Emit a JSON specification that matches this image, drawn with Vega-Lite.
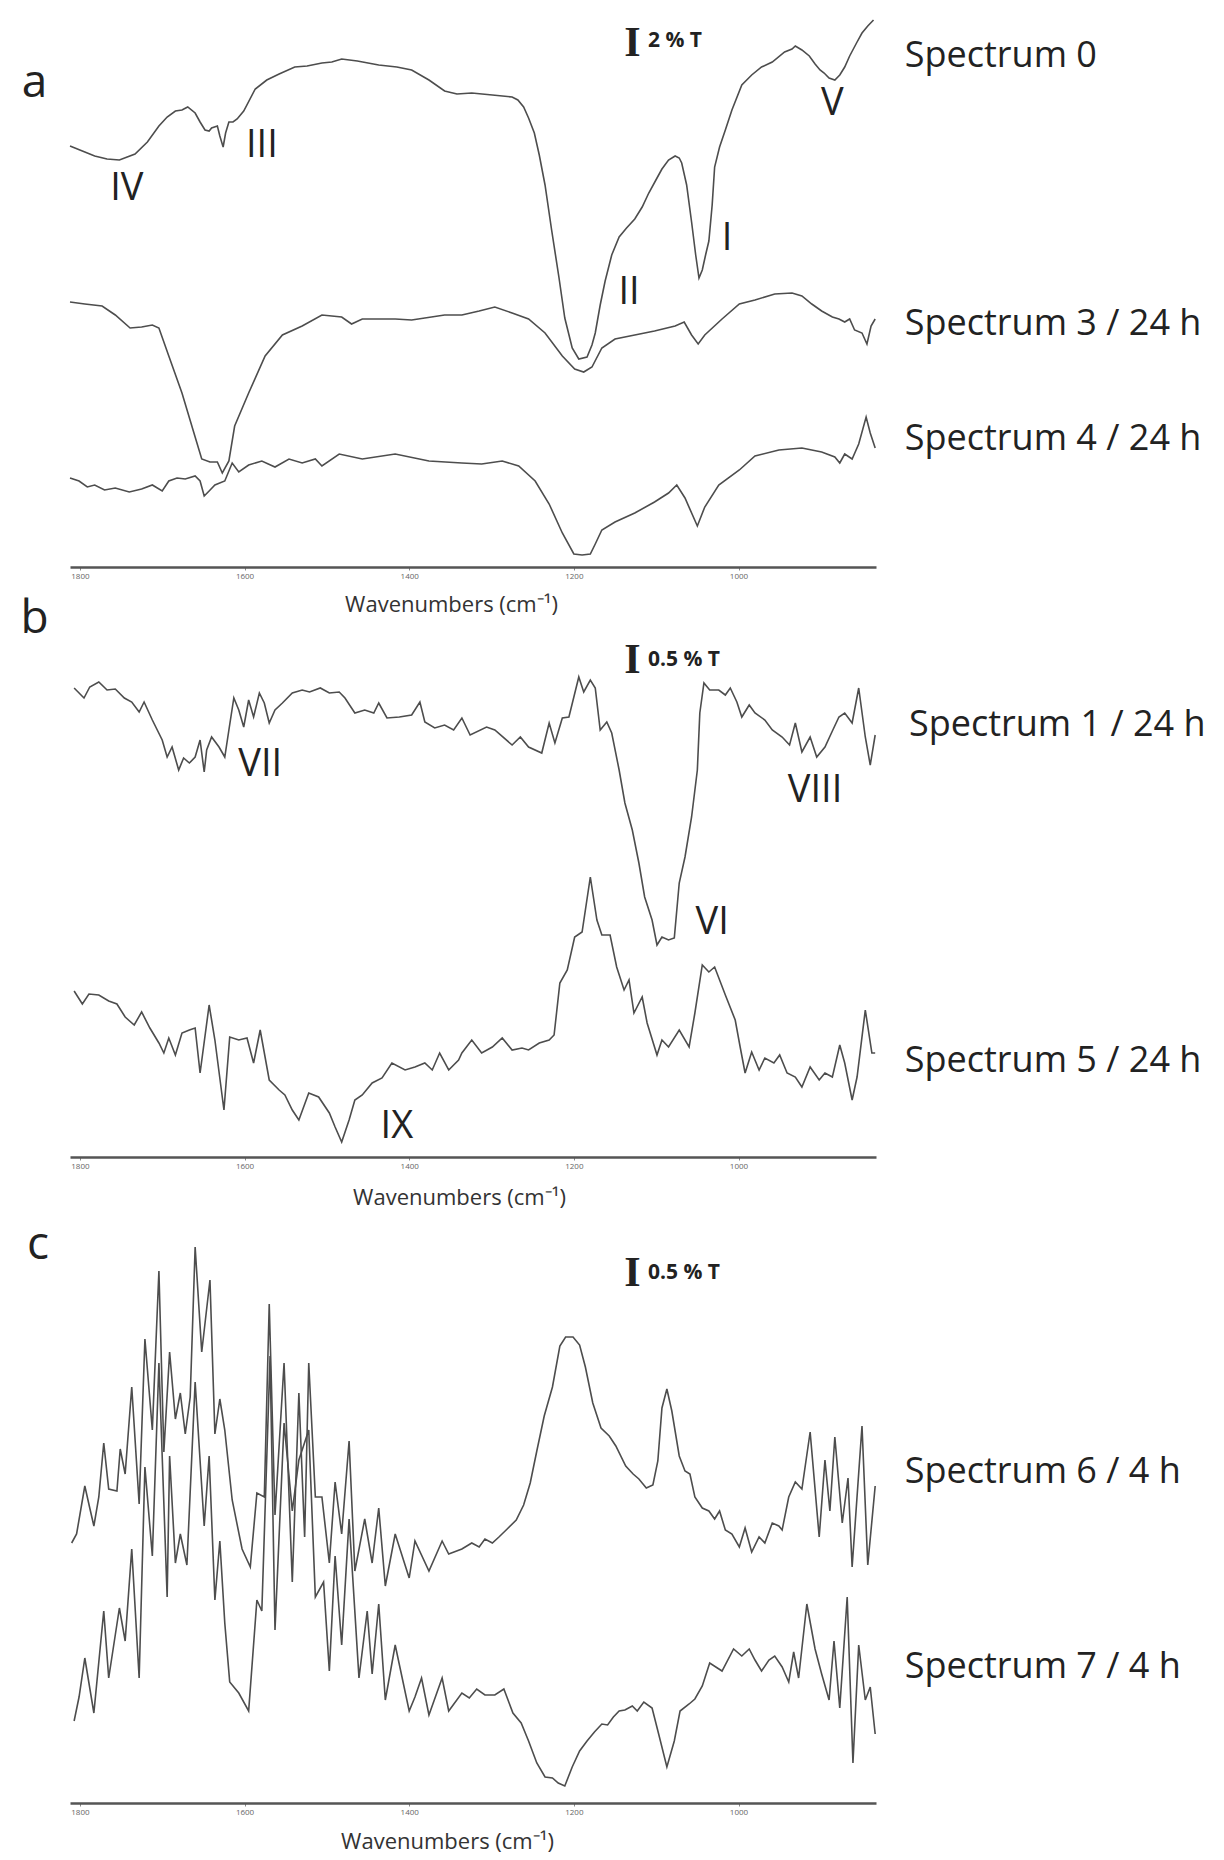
{
"$schema": "https://vega.github.io/schema/vega-lite/v6.json",
"padding": {"left": 20, "top": 12, "right": 0, "bottom": 5},
"background": "white",
"spacing": 65,
"bounds": "flush",
"config": {"view": {"stroke": null}, "font": "Open Sans"},
"datasets": {
"specA": [
{"s":"0","x":1812,"y":421},{"s":"0","x":1797,"y":416},{"s":"0","x":1782,"y":411},{"s":"0","x":1767,"y":408},{"s":"0","x":1752,"y":407},{"s":"0","x":1733,"y":413},{"s":"0","x":1718,"y":425},{"s":"0","x":1704,"y":441},{"s":"0","x":1694,"y":450},{"s":"0","x":1684,"y":456},{"s":"0","x":1676,"y":457},{"s":"0","x":1669,"y":460},{"s":"0","x":1660,"y":454},{"s":"0","x":1654,"y":445},{"s":"0","x":1648,"y":437},{"s":"0","x":1643,"y":436},{"s":"0","x":1640,"y":439},{"s":"0","x":1633,"y":441},{"s":"0","x":1630,"y":431},{"s":"0","x":1626,"y":420},{"s":"0","x":1623,"y":434},{"s":"0","x":1619,"y":445},{"s":"0","x":1614,"y":445},{"s":"0","x":1609,"y":448},{"s":"0","x":1601,"y":456},{"s":"0","x":1587,"y":478},{"s":"0","x":1573,"y":487},{"s":"0","x":1558,"y":493},{"s":"0","x":1539,"y":500},{"s":"0","x":1524,"y":501},{"s":"0","x":1506,"y":504},{"s":"0","x":1494,"y":505},{"s":"0","x":1482,"y":508},{"s":"0","x":1463,"y":506},{"s":"0","x":1437,"y":502},{"s":"0","x":1415,"y":500},{"s":"0","x":1397,"y":497},{"s":"0","x":1376,"y":487},{"s":"0","x":1357,"y":476},{"s":"0","x":1342,"y":473},{"s":"0","x":1324,"y":474},{"s":"0","x":1299,"y":472},{"s":"0","x":1275,"y":470},{"s":"0","x":1268,"y":467},{"s":"0","x":1261,"y":460},{"s":"0","x":1255,"y":449},{"s":"0","x":1248,"y":434},{"s":"0","x":1242,"y":412},{"s":"0","x":1235,"y":382},{"s":"0","x":1227,"y":337},{"s":"0","x":1218,"y":289},{"s":"0","x":1211,"y":249},{"s":"0","x":1202,"y":219},{"s":"0","x":1194,"y":208},{"s":"0","x":1184,"y":210},{"s":"0","x":1178,"y":222},{"s":"0","x":1174,"y":234},{"s":"0","x":1168,"y":262},{"s":"0","x":1162,"y":286},{"s":"0","x":1154,"y":312},{"s":"0","x":1145,"y":330},{"s":"0","x":1136,"y":339},{"s":"0","x":1126,"y":348},{"s":"0","x":1117,"y":360},{"s":"0","x":1109,"y":374},{"s":"0","x":1099,"y":389},{"s":"0","x":1093,"y":398},{"s":"0","x":1085,"y":407},{"s":"0","x":1077,"y":411},{"s":"0","x":1072,"y":409},{"s":"0","x":1069,"y":404},{"s":"0","x":1063,"y":382},{"s":"0","x":1057,"y":345},{"s":"0","x":1052,"y":312},{"s":"0","x":1048,"y":289},{"s":"0","x":1044,"y":297},{"s":"0","x":1040,"y":312},{"s":"0","x":1036,"y":326},{"s":"0","x":1032,"y":362},{"s":"0","x":1029,"y":400},{"s":"0","x":1023,"y":420},{"s":"0","x":1016,"y":437},{"s":"0","x":1008,"y":457},{"s":"0","x":996,"y":482},{"s":"0","x":984,"y":492},{"s":"0","x":972,"y":500},{"s":"0","x":959,"y":505},{"s":"0","x":944,"y":515},{"s":"0","x":935,"y":518},{"s":"0","x":931,"y":521},{"s":"0","x":923,"y":517},{"s":"0","x":914,"y":511},{"s":"0","x":907,"y":503},{"s":"0","x":901,"y":497},{"s":"0","x":896,"y":494},{"s":"0","x":890,"y":489},{"s":"0","x":883,"y":487},{"s":"0","x":877,"y":492},{"s":"0","x":871,"y":500},{"s":"0","x":865,"y":511},{"s":"0","x":856,"y":525},{"s":"0","x":850,"y":534},{"s":"0","x":843,"y":541},{"s":"0","x":836,"y":547},
{"s":"3","x":1812,"y":265},{"s":"3","x":1794,"y":263},{"s":"3","x":1773,"y":261},{"s":"3","x":1757,"y":252},{"s":"3","x":1739,"y":239},{"s":"3","x":1725,"y":240},{"s":"3","x":1712,"y":242},{"s":"3","x":1704,"y":239},{"s":"3","x":1692,"y":211},{"s":"3","x":1676,"y":174},{"s":"3","x":1660,"y":130},{"s":"3","x":1652,"y":108},{"s":"3","x":1642,"y":105},{"s":"3","x":1633,"y":105},{"s":"3","x":1627,"y":94},{"s":"3","x":1619,"y":106},{"s":"3","x":1612,"y":141},{"s":"3","x":1595,"y":174},{"s":"3","x":1575,"y":211},{"s":"3","x":1554,"y":232},{"s":"3","x":1530,"y":241},{"s":"3","x":1506,"y":252},{"s":"3","x":1482,"y":250},{"s":"3","x":1470,"y":243},{"s":"3","x":1457,"y":248},{"s":"3","x":1417,"y":248},{"s":"3","x":1397,"y":247},{"s":"3","x":1357,"y":252},{"s":"3","x":1336,"y":252},{"s":"3","x":1315,"y":256},{"s":"3","x":1296,"y":260},{"s":"3","x":1275,"y":254},{"s":"3","x":1255,"y":248},{"s":"3","x":1235,"y":234},{"s":"3","x":1214,"y":211},{"s":"3","x":1199,"y":198},{"s":"3","x":1188,"y":195},{"s":"3","x":1178,"y":200},{"s":"3","x":1166,"y":219},{"s":"3","x":1150,"y":228},{"s":"3","x":1126,"y":232},{"s":"3","x":1102,"y":236},{"s":"3","x":1077,"y":241},{"s":"3","x":1066,"y":245},{"s":"3","x":1057,"y":232},{"s":"3","x":1049,"y":223},{"s":"3","x":1041,"y":232},{"s":"3","x":1020,"y":248},{"s":"3","x":999,"y":263},{"s":"3","x":980,"y":267},{"s":"3","x":956,"y":273},{"s":"3","x":935,"y":274},{"s":"3","x":923,"y":271},{"s":"3","x":911,"y":263},{"s":"3","x":899,"y":256},{"s":"3","x":886,"y":250},{"s":"3","x":878,"y":248},{"s":"3","x":871,"y":245},{"s":"3","x":865,"y":248},{"s":"3","x":859,"y":237},{"s":"3","x":850,"y":234},{"s":"3","x":844,"y":223},{"s":"3","x":839,"y":241},{"s":"3","x":834,"y":248},
{"s":"4","x":1812,"y":89},{"s":"4","x":1801,"y":86},{"s":"4","x":1791,"y":80},{"s":"4","x":1782,"y":82},{"s":"4","x":1770,"y":77},{"s":"4","x":1757,"y":79},{"s":"4","x":1740,"y":75},{"s":"4","x":1725,"y":78},{"s":"4","x":1712,"y":82},{"s":"4","x":1700,"y":76},{"s":"4","x":1692,"y":86},{"s":"4","x":1682,"y":89},{"s":"4","x":1672,"y":88},{"s":"4","x":1660,"y":91},{"s":"4","x":1654,"y":86},{"s":"4","x":1649,"y":71},{"s":"4","x":1643,"y":76},{"s":"4","x":1636,"y":82},{"s":"4","x":1624,"y":86},{"s":"4","x":1615,"y":104},{"s":"4","x":1607,"y":95},{"s":"4","x":1595,"y":102},{"s":"4","x":1579,"y":106},{"s":"4","x":1563,"y":100},{"s":"4","x":1546,"y":108},{"s":"4","x":1530,"y":104},{"s":"4","x":1514,"y":108},{"s":"4","x":1506,"y":101},{"s":"4","x":1485,"y":113},{"s":"4","x":1457,"y":108},{"s":"4","x":1417,"y":113},{"s":"4","x":1376,"y":106},{"s":"4","x":1336,"y":104},{"s":"4","x":1312,"y":103},{"s":"4","x":1287,"y":106},{"s":"4","x":1267,"y":101},{"s":"4","x":1247,"y":86},{"s":"4","x":1230,"y":63},{"s":"4","x":1214,"y":34},{"s":"4","x":1200,"y":13},{"s":"4","x":1190,"y":12},{"s":"4","x":1180,"y":13},{"s":"4","x":1174,"y":23},{"s":"4","x":1166,"y":37},{"s":"4","x":1150,"y":45},{"s":"4","x":1126,"y":54},{"s":"4","x":1102,"y":65},{"s":"4","x":1085,"y":74},{"s":"4","x":1075,"y":82},{"s":"4","x":1065,"y":69},{"s":"4","x":1050,"y":41},{"s":"4","x":1041,"y":60},{"s":"4","x":1024,"y":82},{"s":"4","x":999,"y":97},{"s":"4","x":980,"y":111},{"s":"4","x":951,"y":117},{"s":"4","x":923,"y":119},{"s":"4","x":899,"y":115},{"s":"4","x":883,"y":110},{"s":"4","x":877,"y":104},{"s":"4","x":871,"y":113},{"s":"4","x":862,"y":108},{"s":"4","x":854,"y":123},{"s":"4","x":845,"y":150},{"s":"4","x":840,"y":134},{"s":"4","x":834,"y":119}
],
"specB": [
{"s":"1","x":1807,"y":469},{"s":"1","x":1795,"y":459},{"s":"1","x":1788,"y":470},{"s":"1","x":1777,"y":475},{"s":"1","x":1767,"y":467},{"s":"1","x":1757,"y":468},{"s":"1","x":1746,"y":459},{"s":"1","x":1737,"y":455},{"s":"1","x":1728,"y":445},{"s":"1","x":1722,"y":455},{"s":"1","x":1712,"y":437},{"s":"1","x":1700,"y":417},{"s":"1","x":1694,"y":400},{"s":"1","x":1688,"y":410},{"s":"1","x":1680,"y":387},{"s":"1","x":1674,"y":399},{"s":"1","x":1667,"y":394},{"s":"1","x":1660,"y":400},{"s":"1","x":1654,"y":417},{"s":"1","x":1649,"y":385},{"s":"1","x":1646,"y":407},{"s":"1","x":1640,"y":420},{"s":"1","x":1631,"y":410},{"s":"1","x":1624,"y":400},{"s":"1","x":1619,"y":427},{"s":"1","x":1613,"y":459},{"s":"1","x":1607,"y":447},{"s":"1","x":1601,"y":430},{"s":"1","x":1595,"y":457},{"s":"1","x":1589,"y":440},{"s":"1","x":1582,"y":464},{"s":"1","x":1576,"y":454},{"s":"1","x":1570,"y":434},{"s":"1","x":1563,"y":447},{"s":"1","x":1554,"y":454},{"s":"1","x":1542,"y":464},{"s":"1","x":1530,"y":467},{"s":"1","x":1521,"y":465},{"s":"1","x":1508,"y":469},{"s":"1","x":1497,"y":464},{"s":"1","x":1485,"y":465},{"s":"1","x":1478,"y":459},{"s":"1","x":1466,"y":444},{"s":"1","x":1454,"y":447},{"s":"1","x":1443,"y":444},{"s":"1","x":1437,"y":454},{"s":"1","x":1427,"y":439},{"s":"1","x":1412,"y":440},{"s":"1","x":1397,"y":442},{"s":"1","x":1387,"y":455},{"s":"1","x":1381,"y":435},{"s":"1","x":1369,"y":429},{"s":"1","x":1357,"y":432},{"s":"1","x":1346,"y":427},{"s":"1","x":1336,"y":439},{"s":"1","x":1326,"y":422},{"s":"1","x":1306,"y":430},{"s":"1","x":1296,"y":427},{"s":"1","x":1275,"y":412},{"s":"1","x":1265,"y":420},{"s":"1","x":1255,"y":410},{"s":"1","x":1239,"y":404},{"s":"1","x":1230,"y":434},{"s":"1","x":1223,"y":414},{"s":"1","x":1214,"y":439},{"s":"1","x":1206,"y":440},{"s":"1","x":1194,"y":480},{"s":"1","x":1188,"y":465},{"s":"1","x":1180,"y":477},{"s":"1","x":1174,"y":469},{"s":"1","x":1168,"y":427},{"s":"1","x":1160,"y":435},{"s":"1","x":1154,"y":424},{"s":"1","x":1145,"y":387},{"s":"1","x":1138,"y":354},{"s":"1","x":1129,"y":327},{"s":"1","x":1121,"y":294},{"s":"1","x":1114,"y":260},{"s":"1","x":1105,"y":237},{"s":"1","x":1099,"y":212},{"s":"1","x":1093,"y":220},{"s":"1","x":1085,"y":217},{"s":"1","x":1078,"y":219},{"s":"1","x":1072,"y":274},{"s":"1","x":1065,"y":300},{"s":"1","x":1057,"y":340},{"s":"1","x":1050,"y":387},{"s":"1","x":1047,"y":444},{"s":"1","x":1042,"y":474},{"s":"1","x":1035,"y":467},{"s":"1","x":1024,"y":467},{"s":"1","x":1016,"y":462},{"s":"1","x":1010,"y":469},{"s":"1","x":1002,"y":455},{"s":"1","x":996,"y":440},{"s":"1","x":987,"y":452},{"s":"1","x":980,"y":444},{"s":"1","x":968,"y":437},{"s":"1","x":959,"y":427},{"s":"1","x":947,"y":420},{"s":"1","x":938,"y":412},{"s":"1","x":931,"y":434},{"s":"1","x":923,"y":405},{"s":"1","x":913,"y":420},{"s":"1","x":905,"y":400},{"s":"1","x":895,"y":410},{"s":"1","x":886,"y":426},{"s":"1","x":878,"y":440},{"s":"1","x":871,"y":444},{"s":"1","x":862,"y":434},{"s":"1","x":854,"y":469},{"s":"1","x":846,"y":420},{"s":"1","x":840,"y":392},{"s":"1","x":834,"y":422},
{"s":"5","x":1807,"y":166},{"s":"5","x":1797,"y":153},{"s":"5","x":1789,"y":163},{"s":"5","x":1777,"y":162},{"s":"5","x":1765,"y":156},{"s":"5","x":1755,"y":153},{"s":"5","x":1745,"y":140},{"s":"5","x":1734,"y":132},{"s":"5","x":1725,"y":145},{"s":"5","x":1715,"y":129},{"s":"5","x":1704,"y":114},{"s":"5","x":1698,"y":104},{"s":"5","x":1692,"y":119},{"s":"5","x":1684,"y":102},{"s":"5","x":1676,"y":124},{"s":"5","x":1667,"y":127},{"s":"5","x":1660,"y":129},{"s":"5","x":1654,"y":84},{"s":"5","x":1643,"y":152},{"s":"5","x":1636,"y":117},{"s":"5","x":1625,"y":47},{"s":"5","x":1618,"y":120},{"s":"5","x":1607,"y":117},{"s":"5","x":1597,"y":119},{"s":"5","x":1589,"y":94},{"s":"5","x":1581,"y":127},{"s":"5","x":1570,"y":77},{"s":"5","x":1558,"y":67},{"s":"5","x":1551,"y":62},{"s":"5","x":1542,"y":47},{"s":"5","x":1534,"y":37},{"s":"5","x":1522,"y":64},{"s":"5","x":1510,"y":60},{"s":"5","x":1497,"y":44},{"s":"5","x":1490,"y":30},{"s":"5","x":1482,"y":15},{"s":"5","x":1473,"y":37},{"s":"5","x":1466,"y":57},{"s":"5","x":1457,"y":62},{"s":"5","x":1445,"y":74},{"s":"5","x":1433,"y":79},{"s":"5","x":1421,"y":94},{"s":"5","x":1405,"y":87},{"s":"5","x":1393,"y":90},{"s":"5","x":1381,"y":94},{"s":"5","x":1372,"y":87},{"s":"5","x":1363,"y":104},{"s":"5","x":1352,"y":87},{"s":"5","x":1340,"y":97},{"s":"5","x":1336,"y":104},{"s":"5","x":1324,"y":117},{"s":"5","x":1312,"y":104},{"s":"5","x":1299,"y":110},{"s":"5","x":1287,"y":119},{"s":"5","x":1275,"y":107},{"s":"5","x":1263,"y":109},{"s":"5","x":1255,"y":107},{"s":"5","x":1242,"y":114},{"s":"5","x":1230,"y":117},{"s":"5","x":1224,"y":122},{"s":"5","x":1217,"y":174},{"s":"5","x":1208,"y":187},{"s":"5","x":1199,"y":220},{"s":"5","x":1190,"y":225},{"s":"5","x":1180,"y":280},{"s":"5","x":1172,"y":237},{"s":"5","x":1166,"y":222},{"s":"5","x":1156,"y":222},{"s":"5","x":1148,"y":190},{"s":"5","x":1139,"y":167},{"s":"5","x":1133,"y":177},{"s":"5","x":1127,"y":144},{"s":"5","x":1117,"y":160},{"s":"5","x":1111,"y":134},{"s":"5","x":1099,"y":102},{"s":"5","x":1093,"y":117},{"s":"5","x":1085,"y":110},{"s":"5","x":1072,"y":127},{"s":"5","x":1060,"y":110},{"s":"5","x":1053,"y":144},{"s":"5","x":1044,"y":192},{"s":"5","x":1036,"y":185},{"s":"5","x":1029,"y":190},{"s":"5","x":1016,"y":162},{"s":"5","x":1004,"y":137},{"s":"5","x":998,"y":110},{"s":"5","x":992,"y":84},{"s":"5","x":984,"y":105},{"s":"5","x":975,"y":87},{"s":"5","x":968,"y":99},{"s":"5","x":957,"y":94},{"s":"5","x":950,"y":102},{"s":"5","x":941,"y":84},{"s":"5","x":931,"y":80},{"s":"5","x":923,"y":70},{"s":"5","x":913,"y":90},{"s":"5","x":902,"y":77},{"s":"5","x":895,"y":84},{"s":"5","x":886,"y":80},{"s":"5","x":877,"y":112},{"s":"5","x":871,"y":94},{"s":"5","x":862,"y":57},{"s":"5","x":856,"y":80},{"s":"5","x":846,"y":147},{"s":"5","x":838,"y":104},{"s":"5","x":834,"y":104}
],
"specC": [
{"s":"6","x":1810,"y":260},{"s":"6","x":1804,"y":269},{"s":"6","x":1794,"y":317},{"s":"6","x":1788,"y":295},{"s":"6","x":1783,"y":277},{"s":"6","x":1777,"y":306},{"s":"6","x":1771,"y":360},{"s":"6","x":1765,"y":314},{"s":"6","x":1755,"y":312},{"s":"6","x":1751,"y":354},{"s":"6","x":1745,"y":329},{"s":"6","x":1737,"y":416},{"s":"6","x":1728,"y":299},{"s":"6","x":1721,"y":464},{"s":"6","x":1712,"y":373},{"s":"6","x":1704,"y":532},{"s":"6","x":1698,"y":351},{"s":"6","x":1691,"y":451},{"s":"6","x":1684,"y":384},{"s":"6","x":1678,"y":410},{"s":"6","x":1672,"y":369},{"s":"6","x":1666,"y":406},{"s":"6","x":1660,"y":556},{"s":"6","x":1652,"y":451},{"s":"6","x":1642,"y":523},{"s":"6","x":1636,"y":369},{"s":"6","x":1630,"y":404},{"s":"6","x":1624,"y":373},{"s":"6","x":1615,"y":303},{"s":"6","x":1603,"y":254},{"s":"6","x":1593,"y":236},{"s":"6","x":1585,"y":310},{"s":"6","x":1576,"y":306},{"s":"6","x":1570,"y":499},{"s":"6","x":1563,"y":288},{"s":"6","x":1552,"y":440},{"s":"6","x":1542,"y":221},{"s":"6","x":1534,"y":410},{"s":"6","x":1527,"y":266},{"s":"6","x":1522,"y":440},{"s":"6","x":1514,"y":306},{"s":"6","x":1506,"y":306},{"s":"6","x":1497,"y":240},{"s":"6","x":1490,"y":321},{"s":"6","x":1482,"y":269},{"s":"6","x":1473,"y":362},{"s":"6","x":1466,"y":232},{"s":"6","x":1454,"y":284},{"s":"6","x":1445,"y":240},{"s":"6","x":1437,"y":295},{"s":"6","x":1429,"y":217},{"s":"6","x":1417,"y":269},{"s":"6","x":1400,"y":225},{"s":"6","x":1393,"y":262},{"s":"6","x":1376,"y":232},{"s":"6","x":1360,"y":262},{"s":"6","x":1352,"y":249},{"s":"6","x":1336,"y":254},{"s":"6","x":1324,"y":260},{"s":"6","x":1315,"y":256},{"s":"6","x":1308,"y":264},{"s":"6","x":1299,"y":260},{"s":"6","x":1291,"y":266},{"s":"6","x":1281,"y":274},{"s":"6","x":1270,"y":283},{"s":"6","x":1261,"y":298},{"s":"6","x":1253,"y":320},{"s":"6","x":1245,"y":352},{"s":"6","x":1236,"y":387},{"s":"6","x":1226,"y":416},{"s":"6","x":1217,"y":457},{"s":"6","x":1210,"y":466},{"s":"6","x":1201,"y":466},{"s":"6","x":1193,"y":458},{"s":"6","x":1186,"y":436},{"s":"6","x":1177,"y":400},{"s":"6","x":1167,"y":375},{"s":"6","x":1157,"y":367},{"s":"6","x":1149,"y":357},{"s":"6","x":1137,"y":337},{"s":"6","x":1128,"y":329},{"s":"6","x":1121,"y":324},{"s":"6","x":1112,"y":315},{"s":"6","x":1104,"y":318},{"s":"6","x":1098,"y":342},{"s":"6","x":1093,"y":395},{"s":"6","x":1087,"y":414},{"s":"6","x":1081,"y":392},{"s":"6","x":1072,"y":347},{"s":"6","x":1065,"y":332},{"s":"6","x":1059,"y":329},{"s":"6","x":1053,"y":306},{"s":"6","x":1044,"y":295},{"s":"6","x":1036,"y":292},{"s":"6","x":1029,"y":284},{"s":"6","x":1023,"y":292},{"s":"6","x":1016,"y":273},{"s":"6","x":1008,"y":269},{"s":"6","x":999,"y":256},{"s":"6","x":992,"y":275},{"s":"6","x":984,"y":251},{"s":"6","x":975,"y":266},{"s":"6","x":968,"y":260},{"s":"6","x":959,"y":280},{"s":"6","x":951,"y":277},{"s":"6","x":947,"y":273},{"s":"6","x":939,"y":306},{"s":"6","x":931,"y":321},{"s":"6","x":923,"y":314},{"s":"6","x":913,"y":371},{"s":"6","x":902,"y":266},{"s":"6","x":895,"y":343},{"s":"6","x":889,"y":292},{"s":"6","x":883,"y":366},{"s":"6","x":874,"y":280},{"s":"6","x":867,"y":325},{"s":"6","x":862,"y":236},{"s":"6","x":850,"y":377},{"s":"6","x":843,"y":238},{"s":"6","x":834,"y":317},
{"s":"7","x":1807,"y":82},{"s":"7","x":1801,"y":106},{"s":"7","x":1794,"y":145},{"s":"7","x":1783,"y":90},{"s":"7","x":1771,"y":192},{"s":"7","x":1765,"y":125},{"s":"7","x":1752,"y":195},{"s":"7","x":1745,"y":162},{"s":"7","x":1737,"y":254},{"s":"7","x":1728,"y":125},{"s":"7","x":1721,"y":336},{"s":"7","x":1712,"y":247},{"s":"7","x":1704,"y":440},{"s":"7","x":1694,"y":206},{"s":"7","x":1691,"y":347},{"s":"7","x":1684,"y":240},{"s":"7","x":1678,"y":269},{"s":"7","x":1670,"y":238},{"s":"7","x":1660,"y":421},{"s":"7","x":1649,"y":277},{"s":"7","x":1643,"y":347},{"s":"7","x":1636,"y":203},{"s":"7","x":1630,"y":262},{"s":"7","x":1624,"y":180},{"s":"7","x":1618,"y":121},{"s":"7","x":1607,"y":110},{"s":"7","x":1595,"y":92},{"s":"7","x":1585,"y":203},{"s":"7","x":1579,"y":192},{"s":"7","x":1569,"y":447},{"s":"7","x":1563,"y":173},{"s":"7","x":1552,"y":380},{"s":"7","x":1542,"y":292},{"s":"7","x":1534,"y":343},{"s":"7","x":1522,"y":373},{"s":"7","x":1514,"y":206},{"s":"7","x":1504,"y":221},{"s":"7","x":1497,"y":132},{"s":"7","x":1490,"y":247},{"s":"7","x":1482,"y":158},{"s":"7","x":1473,"y":284},{"s":"7","x":1461,"y":125},{"s":"7","x":1451,"y":192},{"s":"7","x":1445,"y":129},{"s":"7","x":1437,"y":199},{"s":"7","x":1429,"y":103},{"s":"7","x":1417,"y":158},{"s":"7","x":1400,"y":92},{"s":"7","x":1393,"y":106},{"s":"7","x":1385,"y":125},{"s":"7","x":1376,"y":88},{"s":"7","x":1360,"y":125},{"s":"7","x":1352,"y":92},{"s":"7","x":1336,"y":110},{"s":"7","x":1327,"y":105},{"s":"7","x":1318,"y":114},{"s":"7","x":1308,"y":108},{"s":"7","x":1296,"y":108},{"s":"7","x":1285,"y":114},{"s":"7","x":1274,"y":90},{"s":"7","x":1264,"y":80},{"s":"7","x":1255,"y":62},{"s":"7","x":1245,"y":40},{"s":"7","x":1235,"y":26},{"s":"7","x":1226,"y":25},{"s":"7","x":1219,"y":20},{"s":"7","x":1211,"y":17},{"s":"7","x":1202,"y":36},{"s":"7","x":1193,"y":52},{"s":"7","x":1184,"y":62},{"s":"7","x":1175,"y":71},{"s":"7","x":1166,"y":79},{"s":"7","x":1159,"y":78},{"s":"7","x":1152,"y":86},{"s":"7","x":1145,"y":92},{"s":"7","x":1138,"y":93},{"s":"7","x":1129,"y":97},{"s":"7","x":1123,"y":92},{"s":"7","x":1115,"y":101},{"s":"7","x":1105,"y":95},{"s":"7","x":1097,"y":69},{"s":"7","x":1087,"y":36},{"s":"7","x":1078,"y":62},{"s":"7","x":1071,"y":92},{"s":"7","x":1060,"y":99},{"s":"7","x":1053,"y":104},{"s":"7","x":1044,"y":117},{"s":"7","x":1035,"y":140},{"s":"7","x":1020,"y":132},{"s":"7","x":1006,"y":154},{"s":"7","x":996,"y":147},{"s":"7","x":987,"y":154},{"s":"7","x":980,"y":143},{"s":"7","x":972,"y":132},{"s":"7","x":963,"y":143},{"s":"7","x":956,"y":147},{"s":"7","x":947,"y":136},{"s":"7","x":939,"y":121},{"s":"7","x":933,"y":151},{"s":"7","x":927,"y":125},{"s":"7","x":917,"y":199},{"s":"7","x":907,"y":154},{"s":"7","x":899,"y":129},{"s":"7","x":890,"y":103},{"s":"7","x":884,"y":162},{"s":"7","x":877,"y":95},{"s":"7","x":868,"y":206},{"s":"7","x":861,"y":40},{"s":"7","x":854,"y":158},{"s":"7","x":846,"y":103},{"s":"7","x":840,"y":116},{"s":"7","x":834,"y":69}
],
"ann": [
{"p":"a","k":"r","t":"IV","x":1743,"y":378},
{"p":"a","k":"r","t":"III","x":1579,"y":421},
{"p":"a","k":"r","t":"II","x":1133,"y":274},
{"p":"a","k":"r","t":"I","x":1014,"y":328},
{"p":"a","k":"r","t":"V","x":886,"y":463},
{"p":"a","k":"s","t":"Spectrum 0","x":798,"y":511},
{"p":"a","k":"s","t":"Spectrum 3 / 24 h","x":798,"y":243},
{"p":"a","k":"s","t":"Spectrum 4 / 24 h","x":798,"y":128},
{"p":"a","k":"bar","t":"I","x":1129,"y":524},
{"p":"a","k":"pct","t":"2 % T","x":1110,"y":526},
{"p":"a","k":"L","t":"a","x":1855,"y":484},
{"p":"b","k":"r","t":"VII","x":1581,"y":392},
{"p":"b","k":"r","t":"VIII","x":907,"y":366},
{"p":"b","k":"r","t":"VI","x":1032,"y":234},
{"p":"b","k":"r","t":"IX","x":1415,"y":30},
{"p":"b","k":"s","t":"Spectrum 1 / 24 h","x":793,"y":432},
{"p":"b","k":"s","t":"Spectrum 5 / 24 h","x":798,"y":96},
{"p":"b","k":"bar","t":"I","x":1129,"y":497},
{"p":"b","k":"pct","t":"0.5 % T","x":1110,"y":497},
{"p":"b","k":"L","t":"b","x":1855,"y":538},
{"p":"c","k":"s","t":"Spectrum 6 / 4 h","x":798,"y":331},
{"p":"c","k":"s","t":"Spectrum 7 / 4 h","x":798,"y":136},
{"p":"c","k":"bar","t":"I","x":1129,"y":530},
{"p":"c","k":"pct","t":"0.5 % T","x":1110,"y":530},
{"p":"c","k":"L","t":"c","x":1851,"y":558}
]
},
"vconcat": [
{
"width": 806, "height": 555,
"encoding": {
"x": {"field": "x", "type": "quantitative", "scale": {"domain": [1812, 833], "nice": false, "zero": false},
 "axis": {"values": [1800,1600,1400,1200,1000], "format": "d", "grid": false, "title": "Wavenumbers (cm⁻¹)", "domainColor": "#555", "domainWidth": 2.5, "tickColor": "#888", "tickSize": 3, "labelFontSize": 8, "labelColor": "#666", "labelPadding": 2, "titleFontSize": 22, "titleFontWeight": "normal", "titleColor": "#333", "titlePadding": 14, "titleX": 381}},
"y": {"field": "y", "type": "quantitative", "scale": {"domain": [0, 555], "nice": false, "zero": false}, "axis": null}
},
"layer": [
{"data": {"name": "specA"}, "mark": {"type": "line", "color": "#4d4d4d", "strokeWidth": 1.6}, "encoding": {"detail": {"field": "s", "type": "nominal"}}},
{"data": {"name": "ann"}, "transform": [{"filter": "datum.p == 'a' && datum.k == 'r'"}], "mark": {"type": "text", "fontSize": 38, "align": "center", "baseline": "middle", "color": "#222"}, "encoding": {"text": {"field": "t", "type": "nominal"}}},
{"data": {"name": "ann"}, "transform": [{"filter": "datum.p == 'a' && datum.k == 's'"}], "mark": {"type": "text", "fontSize": 36, "align": "left", "baseline": "middle", "color": "#222"}, "encoding": {"text": {"field": "t", "type": "nominal"}}},
{"data": {"name": "ann"}, "transform": [{"filter": "datum.p == 'a' && datum.k == 'bar'"}], "mark": {"type": "text", "fontSize": 42, "font": "Liberation Serif", "fontWeight": "bold", "align": "center", "baseline": "middle", "color": "#222"}, "encoding": {"text": {"field": "t", "type": "nominal"}}},
{"data": {"name": "ann"}, "transform": [{"filter": "datum.p == 'a' && datum.k == 'pct'"}], "mark": {"type": "text", "fontSize": 21, "fontWeight": "bold", "align": "left", "baseline": "middle", "color": "#222"}, "encoding": {"text": {"field": "t", "type": "nominal"}}},
{"data": {"name": "ann"}, "transform": [{"filter": "datum.p == 'a' && datum.k == 'L'"}], "mark": {"type": "text", "fontSize": 46, "align": "center", "baseline": "middle", "color": "#222"}, "encoding": {"text": {"field": "t", "type": "nominal"}}}
]
},
{
"width": 806, "height": 525,
"encoding": {
"x": {"field": "x", "type": "quantitative", "scale": {"domain": [1812, 833], "nice": false, "zero": false},
 "axis": {"values": [1800,1600,1400,1200,1000], "format": "d", "grid": false, "title": "Wavenumbers (cm⁻¹)", "domainColor": "#555", "domainWidth": 2.5, "tickColor": "#888", "tickSize": 3, "labelFontSize": 8, "labelColor": "#666", "labelPadding": 2, "titleFontSize": 22, "titleFontWeight": "normal", "titleColor": "#333", "titlePadding": 17, "titleX": 389}},
"y": {"field": "y", "type": "quantitative", "scale": {"domain": [0, 525], "nice": false, "zero": false}, "axis": null}
},
"layer": [
{"data": {"name": "specB"}, "mark": {"type": "line", "color": "#4d4d4d", "strokeWidth": 1.6}, "encoding": {"detail": {"field": "s", "type": "nominal"}}},
{"data": {"name": "ann"}, "transform": [{"filter": "datum.p == 'b' && datum.k == 'r'"}], "mark": {"type": "text", "fontSize": 38, "align": "center", "baseline": "middle", "color": "#222"}, "encoding": {"text": {"field": "t", "type": "nominal"}}},
{"data": {"name": "ann"}, "transform": [{"filter": "datum.p == 'b' && datum.k == 's'"}], "mark": {"type": "text", "fontSize": 36, "align": "left", "baseline": "middle", "color": "#222"}, "encoding": {"text": {"field": "t", "type": "nominal"}}},
{"data": {"name": "ann"}, "transform": [{"filter": "datum.p == 'b' && datum.k == 'bar'"}], "mark": {"type": "text", "fontSize": 42, "font": "Liberation Serif", "fontWeight": "bold", "align": "center", "baseline": "middle", "color": "#222"}, "encoding": {"text": {"field": "t", "type": "nominal"}}},
{"data": {"name": "ann"}, "transform": [{"filter": "datum.p == 'b' && datum.k == 'pct'"}], "mark": {"type": "text", "fontSize": 21, "fontWeight": "bold", "align": "left", "baseline": "middle", "color": "#222"}, "encoding": {"text": {"field": "t", "type": "nominal"}}},
{"data": {"name": "ann"}, "transform": [{"filter": "datum.p == 'b' && datum.k == 'L'"}], "mark": {"type": "text", "fontSize": 46, "align": "center", "baseline": "middle", "color": "#222"}, "encoding": {"text": {"field": "t", "type": "nominal"}}}
]
},
{
"width": 806, "height": 581,
"encoding": {
"x": {"field": "x", "type": "quantitative", "scale": {"domain": [1812, 833], "nice": false, "zero": false},
 "axis": {"values": [1800,1600,1400,1200,1000], "format": "d", "grid": false, "title": "Wavenumbers (cm⁻¹)", "domainColor": "#555", "domainWidth": 2.5, "tickColor": "#888", "tickSize": 3, "labelFontSize": 8, "labelColor": "#666", "labelPadding": 2, "titleFontSize": 22, "titleFontWeight": "normal", "titleColor": "#333", "titlePadding": 15, "titleX": 377}},
"y": {"field": "y", "type": "quantitative", "scale": {"domain": [0, 581], "nice": false, "zero": false}, "axis": null}
},
"layer": [
{"data": {"name": "specC"}, "mark": {"type": "line", "color": "#4d4d4d", "strokeWidth": 1.6}, "encoding": {"detail": {"field": "s", "type": "nominal"}}},
{"data": {"name": "ann"}, "transform": [{"filter": "datum.p == 'c' && datum.k == 's'"}], "mark": {"type": "text", "fontSize": 36, "align": "left", "baseline": "middle", "color": "#222"}, "encoding": {"text": {"field": "t", "type": "nominal"}}},
{"data": {"name": "ann"}, "transform": [{"filter": "datum.p == 'c' && datum.k == 'bar'"}], "mark": {"type": "text", "fontSize": 42, "font": "Liberation Serif", "fontWeight": "bold", "align": "center", "baseline": "middle", "color": "#222"}, "encoding": {"text": {"field": "t", "type": "nominal"}}},
{"data": {"name": "ann"}, "transform": [{"filter": "datum.p == 'c' && datum.k == 'pct'"}], "mark": {"type": "text", "fontSize": 21, "fontWeight": "bold", "align": "left", "baseline": "middle", "color": "#222"}, "encoding": {"text": {"field": "t", "type": "nominal"}}},
{"data": {"name": "ann"}, "transform": [{"filter": "datum.p == 'c' && datum.k == 'L'"}], "mark": {"type": "text", "fontSize": 46, "align": "center", "baseline": "middle", "color": "#222"}, "encoding": {"text": {"field": "t", "type": "nominal"}}}
]
}
]
}
